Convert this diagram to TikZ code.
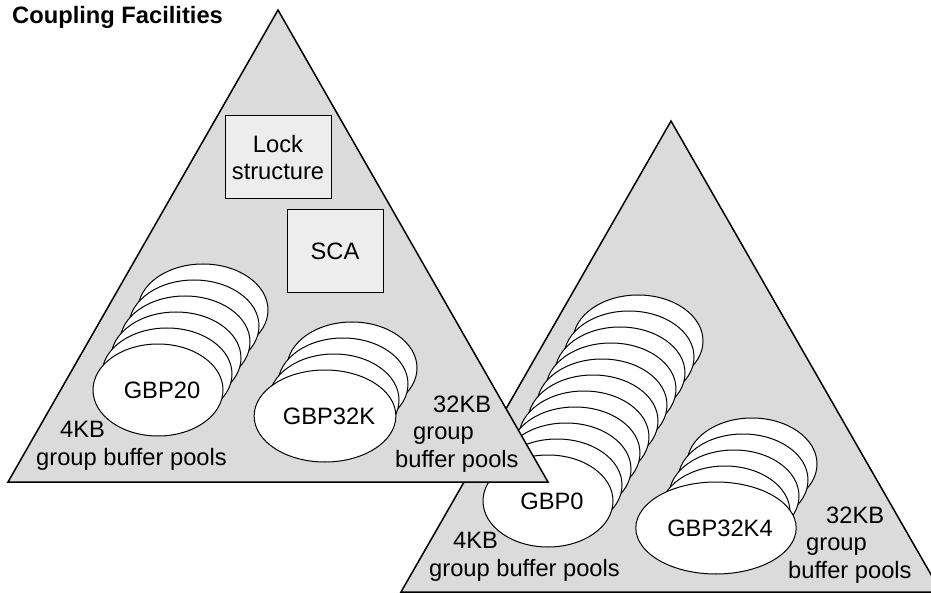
\documentclass[tikz,border=0pt]{standalone}
\usepackage{fontspec}
\setmainfont{Liberation Sans}
\usetikzlibrary{shapes.geometric}

\definecolor{cfgray}{gray}{0.86}
\definecolor{boxgray}{gray}{0.93}

\begin{document}
\begin{tikzpicture}[x=1pt,y=-1pt,
		every node/.style={font=\fontsize{23.7}{27.5}\selectfont, inner sep=0pt},
		cf/.style={draw=black, fill=cfgray, line width=1.5pt},
		struct/.style={draw=black, fill=boxgray, line width=1pt, align=center},
		pool/.style={ellipse, draw=black, fill=white, line width=1pt, minimum width=130pt, minimum height=92pt},
		lbl/.style={anchor=west, align=left}]
		\useasboundingbox (0,0) rectangle (931,593);
		\clip (0,0) rectangle (931,593);
		\node[anchor=base west, font=\bfseries\fontsize{23.7}{27.5}\selectfont] (title) at (12,24) {Coupling Facilities};
		\draw[cf] (671,121) -- (941,592) -- (401,592) -- cycle;
		\foreach \i in {10,9,...,1}
		\node[pool] (gbp0-\i) at (548+9*\i, 501-16*\i) {};
		\node[pool] (gbp0) at (548,501) {\hspace*{8pt}GBP0};
		\foreach \i in {4,3,2,1}
		\node[pool] (gbp32k4-\i) at (716+9*\i, 528-16*\i) {};
		\node[pool] (gbp32k4) at (716,528) {\hspace*{8pt}GBP32K4};
		\node[lbl] (lbl4b) at (429,557) {\hspace*{24pt}4KB\\group buffer pools};
		\node[lbl] (lbl32b) at (788,545) {\hspace*{38pt}32KB\\\hspace*{18pt}group\\buffer pools};
		\draw[cf] (278,10) -- (548,482) -- (8,482) -- cycle;
		\node[struct, minimum width=106pt, minimum height=83pt] (lock) at (278,157.5) {Lock\\structure};
		\node[struct, minimum width=96pt, minimum height=83pt] (sca) at (335,251.5) {SCA};
		\foreach \i in {5,4,3,2,1}
		\node[pool] (gbp20-\i) at (158+9*\i, 390-16*\i) {};
		\node[pool] (gbp20) at (158,390) {\hspace*{8pt}GBP20};
		\foreach \i in {3,2,1}
		\node[pool] (gbp32k-\i) at (325+9*\i, 416-16*\i) {};
		\node[pool] (gbp32k) at (325,416) {\hspace*{8pt}GBP32K};
		\node[lbl] (lbl4a) at (36,446) {\hspace*{24pt}4KB\\group buffer pools};
		\node[lbl] (lbl32a) at (395,434) {\hspace*{38pt}32KB\\\hspace*{18pt}group\\buffer pools};
	\end{tikzpicture}
\end{document}
